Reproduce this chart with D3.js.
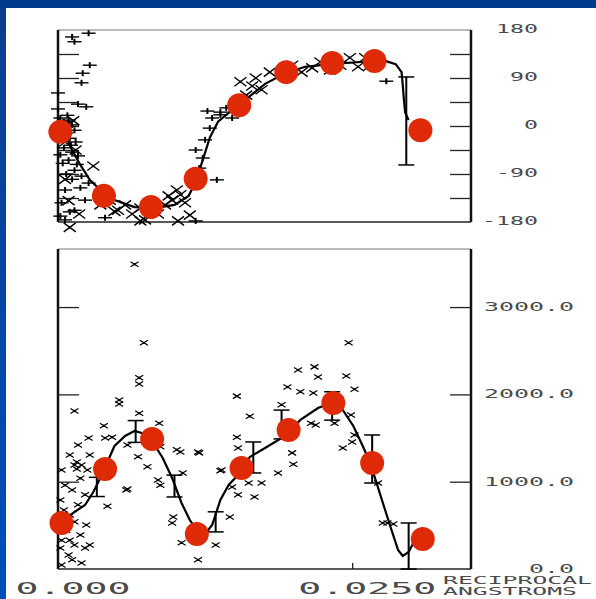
<!DOCTYPE html>
<html>
<head>
<meta charset="utf-8">
<script src="https://cdn.jsdelivr.net/npm/d3@7"></script>
<style>
  body { margin: 0; background: #fff; }
  svg { display: block; }
  text { font-family: "DejaVu Sans Mono", "Liberation Mono", monospace; fill: #4a4a4a; }
</style>
</head>
<body>
<svg id="chart" width="596" height="599"></svg>
<script>
// reciprocal angstroms on x; phase (degrees) on top, amplitude on bottom
var topDots = [[0.0002,-11],[0.0039,-131],[0.0079,-152],[0.0117,-99],[0.0154,39],[0.0194,101],[0.0233,118],[0.0269,122],[0.0308,-8]];
var botDots = [[0.0003,527],[0.0040,1145],[0.0080,1489],[0.0118,401],[0.0156,1157],[0.0196,1592],[0.0234,1901],[0.0267,1214],[0.0310,344]];

var topCurve = [[0,15],[0.0006,-17],[0.0012,-45],[0.0019,-73],[0.0027,-101],[0.0036,-120],[0.0048,-139],[0.0065,-152],
  [0.0082,-154],[0.0099,-148],[0.0111,-131],[0.0117,-105],[0.0123,-64],[0.0129,-22],[0.0136,8],[0.0148,30],[0.0162,54],
  [0.0176,79],[0.0193,99],[0.0210,111],[0.0231,116],[0.0257,120],[0.0278,122],[0.0287,116],[0.0292,101],[0.0293,77],
  [0.0294,49],[0.0295,26],[0.0298,11]];

var botCurve = [[0,481],[0.0006,561],[0.0014,653],[0.0023,733],[0.0030,882],[0.0036,1042],[0.0042,1226],[0.0048,1409],
  [0.0057,1524],[0.0065,1581],[0.0074,1546],[0.0082,1420],[0.0089,1272],[0.0097,1042],[0.0105,756],[0.0112,561],
  [0.0119,424],[0.0125,401],[0.0131,504],[0.0138,790],[0.0145,962],[0.0153,1077],[0.0163,1283],[0.0176,1386],
  [0.0193,1524],[0.0206,1707],[0.0221,1844],[0.0234,1913],[0.0242,1821],[0.0251,1638],[0.0259,1409],[0.0265,1226],
  [0.0271,974],[0.0278,676],[0.0284,424],[0.0289,218],[0.0293,149],[0.0298,195],[0.0302,298]];

var topPlus = [[0.0026,174],[0.0012,167],[0.0014,158],[0.0027,114],[0.0021,99],[0.0020,81],[0.0000,62],[0.0000,32],
  [0.0017,41],[0.0024,36],[0.0002,15],[0.0005,8],[0.0009,11],[0.0012,2],[0.0003,-4],[0.0007,-13],[0.0014,-8],
  [0.0010,-23],[0.0002,-26],[0.0015,-30],[0.0005,-41],[0.0012,-49],[0.0002,-54],[0.0017,-56],[0.0009,-64],
  [0.0014,-83],[0.0020,-94],[0.0006,-120],[0.0019,-116],[0.0026,-107],[0.0023,-139],[0.0003,-144],[0.0010,-161],
  [0.0002,-169],[0.0014,-158],[0.0006,-176],[0.0040,-172],[0.0117,-178],[0.0120,-79],[0.0123,-60],[0.0117,-45],
  [0.0125,-26],[0.0135,-101],[0.0129,-4],[0.0131,15],[0.0138,26],[0.0143,34],[0.0150,26],[0.0127,28],[0.0138,21],
  [0.0148,15],[0.0279,84],[0.0008,20],[0.0011,-36],[0.0004,-70],[0.0016,-72],[0.0007,-90],[0.0012,-100]];
var topCross = [[0.0030,-75],[0.0036,-148],[0.0044,-139],[0.0051,-158],[0.0057,-148],[0.0063,-165],[0.0070,-154],
  [0.0074,-176],[0.0085,-165],[0.0091,-148],[0.0097,-139],[0.0104,-129],[0.0108,-144],[0.0101,-120],[0.0094,-131],
  [0.0112,-167],[0.0102,-178],[0.0070,-178],[0.0155,83],[0.0165,75],[0.0173,68],[0.0160,58],[0.0168,90],[0.0180,101],
  [0.0199,114],[0.0207,101],[0.0216,109],[0.0223,120],[0.0231,105],[0.0240,114],[0.0248,128],[0.0255,111],
  [0.0261,128],[0.0265,113],[0.0272,124],[0.0006,-100],[0.0010,-190],[0.0013,10],[0.0006,-30],[0.0015,-45],
  [0.0009,-140],[0.0018,-165],[0.0048,-160],[0.0080,-150]];

var botCross = [[0.0065,3490],[0.0073,2590],[0.0069,2190],[0.0069,2120],[0.0052,1935],[0.0052,1890],[0.0014,1810],
  [0.0069,1785],[0.0039,1640],[0.0086,1670],[0.0152,1980],[0.0163,1750],[0.0152,1510],[0.0190,1880],[0.0195,2085],
  [0.0204,2280],[0.0247,2590],[0.0218,2315],[0.0221,2200],[0.0245,2210],[0.0252,2060],[0.0217,2015],[0.0206,2030],
  [0.0215,1670],[0.0219,1650],[0.0235,1670],[0.0249,1765],[0.0026,1500],[0.0046,1510],[0.0040,1500],[0.0059,1420],
  [0.0068,1285],[0.0076,1170],[0.0087,1400],[0.0101,1365],[0.0104,1340],[0.0119,1340],[0.0085,1020],[0.0087,960],
  [0.0059,915],[0.0042,720],[0.0106,1100],[0.0098,595],[0.0097,527],[0.0146,595],[0.0139,1135],[0.0148,940],
  [0.0153,850],[0.0119,105],[0.0105,300],[0.0134,275],[0.0020,70],[0.0153,1385],[0.0016,1225],[0.0016,1145],
  [0.0058,905],[0.0120,1330],[0.0138,1125],[0.0187,1100],[0.0199,1330],[0.0200,1200],[0.0162,985],[0.0173,985],
  [0.0167,825],[0.0242,1385],[0.0250,1455],[0.0252,1535],[0.0276,527],[0.0280,527],[0.0285,515],[0.0272,985],
  [0.0010,1305],[0.0014,1190],[0.0003,1135],[0.0019,1040],[0.0006,960],[0.0012,905],[0.0023,850],[0.0002,790],
  [0.0017,735],[0.0010,620],[0.0007,445],[0.0019,390],[0.0003,330],[0.0014,275],[0.0023,240],[0.0009,160],
  [0.0012,105],[0.0003,45],[0.0027,275],[0.0025,1135],[0.0020,1190],[0.0027,1305],[0.0017,1420],[0.0005,675],
  [0.0014,540],[0.0024,505],[0.0002,240],[0.0010,330]];

var topBars = [[0.0296,-73,92]];
var botBars = [[0.0033,830,1050],[0.0066,1450,1700],[0.0099,825,1075],[0.0134,425,655],[0.0166,1100,1455],
  [0.0190,1490,1820],[0.0233,1705,2030],[0.0267,985,1535],[0.0298,0,527]];

var topTicks = [-135,-90,-45,0,45,90,135];
var topLabels = [180,90,0,-90,-180];
var botTicks = [1000,2000,3000];
var botLabels = ["3000.0","2000.0","1000.0","0.0"];
var xTicks = [0.025];
var xLabels = [[0,"0.000"],[0.025,"0.0250"]];

var svg = d3.select("#chart");

// blue frame
var grad = svg.append("defs").append("linearGradient").attr("id","side").attr("x1",0).attr("y1",0).attr("x2",0).attr("y2",1);
grad.append("stop").attr("offset","0").attr("stop-color","#0a3d92");
grad.append("stop").attr("offset","1").attr("stop-color","#0050b8");
svg.append("rect").attr("width",596).attr("height",599).attr("fill","#fff");
svg.append("rect").attr("width",6).attr("height",599).attr("fill","url(#side)");
svg.append("rect").attr("width",596).attr("height",8).attr("fill","#003a8a");

var x = d3.scaleLinear().domain([0, 0.0351]).range([58, 471]);
var yTop = d3.scaleLinear().domain([-180, 180]).range([222, 30]);
var yBot = d3.scaleLinear().domain([0, 3665]).range([569, 249]);

function frame(y, top, bottom) {
  var g = svg.append("g");
  g.append("line").attr("x1",58).attr("x2",471).attr("y1",top).attr("y2",top).attr("stroke","#777").attr("stroke-width",1);
  g.append("line").attr("x1",58).attr("x2",471).attr("y1",bottom).attr("y2",bottom).attr("stroke","#222").attr("stroke-width",1.5);
  g.append("line").attr("x1",58).attr("x2",58).attr("y1",top).attr("y2",bottom).attr("stroke","#111").attr("stroke-width",2.5);
  g.append("line").attr("x1",471).attr("x2",471).attr("y1",top).attr("y2",bottom).attr("stroke","#111").attr("stroke-width",2.5);
}

function ticks(y, vals) {
  var r = svg.append("g").attr("transform","translate(471,0)")
    .call(d3.axisLeft(y).tickValues(vals).tickSize(21).tickSizeOuter(0).tickFormat(""));
  var l = svg.append("g").attr("transform","translate(58,0)")
    .call(d3.axisRight(y).tickValues(vals).tickSize(21).tickSizeOuter(0).tickFormat(""));
  [r, l].forEach(function(a){
    a.select(".domain").remove();
    a.selectAll("line").attr("stroke","#222").attr("stroke-width",1.3);
  });
}

function plus(g, data, y) {
  var s = g.selectAll(null).data(data).enter().append("g")
    .attr("transform", function(d){ return "translate(" + x(d[0]) + "," + y(d[1]) + ")"; });
  s.append("line").attr("x1",-7).attr("x2",7).attr("stroke","#000").attr("stroke-width",1.4);
  s.append("line").attr("y1",-3).attr("y2",3).attr("stroke","#000").attr("stroke-width",2);
}

function cross(g, data, y, w, h, sw) {
  var s = g.selectAll(null).data(data).enter().append("g")
    .attr("transform", function(d){ return "translate(" + x(d[0]) + "," + y(d[1]) + ")"; });
  s.append("path").attr("d", "M" + (-w) + "," + (-h) + "L" + w + "," + h + "M" + (-w) + "," + h + "L" + w + "," + (-h))
    .attr("stroke","#000").attr("stroke-width",sw).attr("fill","none");
  s.append("circle").attr("r",1.2).attr("fill","#000");
}

function bars(g, data, y) {
  var s = g.selectAll(null).data(data).enter().append("g");
  s.append("line").attr("x1",function(d){return x(d[0]);}).attr("x2",function(d){return x(d[0]);})
    .attr("y1",function(d){return y(d[1]);}).attr("y2",function(d){return y(d[2]);})
    .attr("stroke","#000").attr("stroke-width",2);
  [1,2].forEach(function(k){
    s.append("line").attr("x1",function(d){return x(d[0])-8;}).attr("x2",function(d){return x(d[0])+8;})
      .attr("y1",function(d){return y(d[k]);}).attr("y2",function(d){return y(d[k]);})
      .attr("stroke","#000").attr("stroke-width",1.5);
  });
}

function curve(g, data, y) {
  g.append("path").datum(data)
    .attr("d", d3.line().x(function(d){return x(d[0]);}).y(function(d){return y(d[1]);}))
    .attr("fill","none").attr("stroke","#000").attr("stroke-width",2.2);
}

function dots(g, data, y) {
  g.selectAll(null).data(data).enter().append("circle")
    .attr("cx",function(d){return x(d[0]);}).attr("cy",function(d){return y(d[1]);})
    .attr("r",12).attr("fill","#de2a06");
}

// top panel: phase
frame(yTop, 30, 222);
ticks(yTop, topTicks);
var gt = svg.append("g");
cross(gt, topCross, yTop, 6, 4.5, 1.4);
plus(gt, topPlus, yTop);
curve(gt, topCurve, yTop);
bars(gt, topBars, yTop);
dots(gt, topDots, yTop);

svg.selectAll(null).data(topLabels).enter().append("text")
  .attr("x",538).attr("y",function(d){return yTop(d)+3;})
  .attr("text-anchor","end").attr("font-size",12)
  .attr("textLength",function(d){return String(d).length*14;}).attr("lengthAdjust","spacingAndGlyphs")
  .text(function(d){return d;});

// bottom panel: amplitude
frame(yBot, 249, 569);
ticks(yBot, botTicks);
var xa = svg.append("g").attr("transform","translate(0,569)")
  .call(d3.axisTop(x).tickValues(xTicks).tickSize(6).tickSizeOuter(0).tickFormat(""));
xa.select(".domain").remove();
xa.selectAll("line").attr("stroke","#222").attr("stroke-width",1.3);

var gb = svg.append("g");
cross(gb, botCross, yBot, 4, 2.5, 1.2);
curve(gb, botCurve, yBot);
bars(gb, botBars, yBot);
dots(gb, botDots, yBot);

svg.selectAll(null).data(botLabels).enter().append("text")
  .attr("x",574).attr("y",function(d){return yBot(+d)+4;})
  .attr("text-anchor","end").attr("font-size",12)
  .attr("textLength",function(d){return d.length*15;}).attr("lengthAdjust","spacingAndGlyphs")
  .text(function(d){return d;});

svg.selectAll(null).data(xLabels).enter().append("text")
  .attr("x",function(d){return x(d[0]) + 15;}).attr("y",594)
  .attr("text-anchor","middle").attr("font-size",15)
  .attr("textLength",function(d){return d[1].length*23;}).attr("lengthAdjust","spacingAndGlyphs")
  .text(function(d){return d[1];});

svg.append("text").attr("x",443).attr("y",584).attr("font-size",11)
  .attr("textLength",149).attr("lengthAdjust","spacingAndGlyphs").text("RECIPROCAL");
svg.append("text").attr("x",443).attr("y",595).attr("font-size",11)
  .attr("textLength",134).attr("lengthAdjust","spacingAndGlyphs").text("ANGSTROMS");
</script>
</body>
</html>
